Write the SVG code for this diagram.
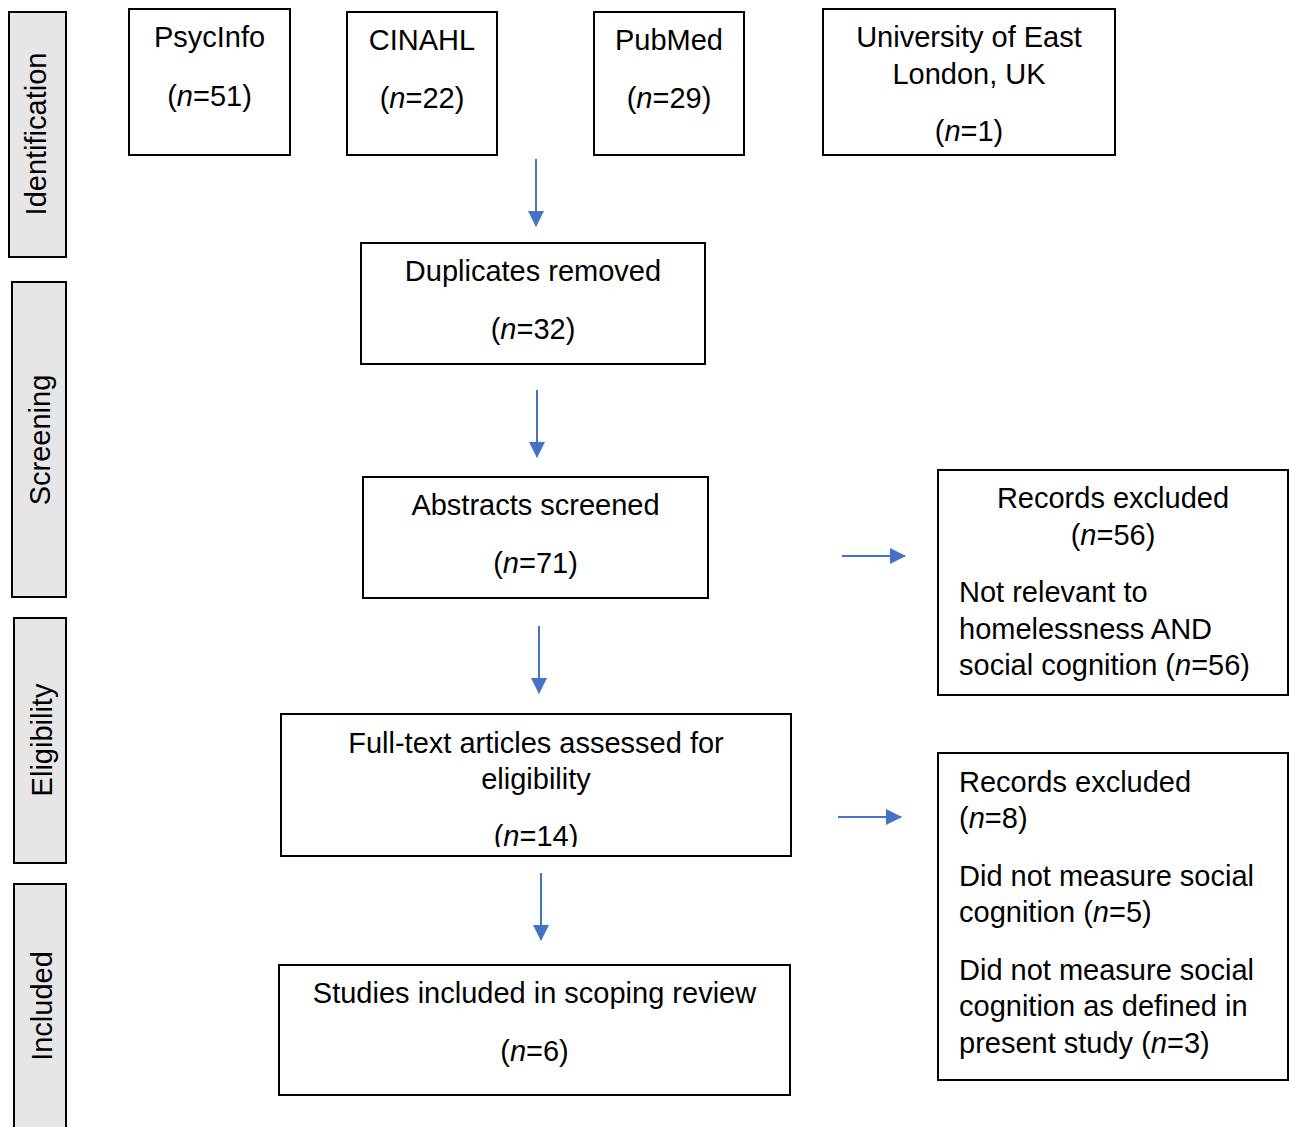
<svg xmlns="http://www.w3.org/2000/svg" width="1289" height="1127" viewBox="0 0 1289 1127">
<style>
.box{fill:#fff;stroke:#000;stroke-width:2}
.bar{fill:#e7e6e6;stroke:#000;stroke-width:2}
text{font-family:"Liberation Sans",Arial,sans-serif;font-size:29px;fill:#000}
.c{text-anchor:middle}
.con{stroke:#4472c4;stroke-width:2;fill:none;marker-end:url(#ah)}
</style>
<defs>
<marker id="ah" markerWidth="16" markerHeight="16" refX="15" refY="8" markerUnits="userSpaceOnUse" orient="auto">
<path d="M0,0 L16,8 L0,16 Z" fill="#4472c4"/>
</marker>
<clipPath id="clipFT"><rect x="281" y="714" width="510" height="133"/></clipPath>
</defs>
<rect width="1289" height="1127" fill="#fff"/>
<g id="bar-identification"><rect class="bar" x="9" y="12" width="57" height="245"/><text class="c" transform="translate(46,134) rotate(-90)">Identification</text></g>
<g id="bar-screening"><rect class="bar" x="12" y="282" width="54" height="315"/><text class="c" transform="translate(50,440) rotate(-90)">Screening</text></g>
<g id="bar-eligibility"><rect class="bar" x="14" y="618" width="52" height="245"/><text class="c" transform="translate(52,740) rotate(-90)">Eligibility</text></g>
<g id="bar-included"><rect class="bar" x="14" y="884" width="52" height="250"/><text class="c" transform="translate(52,1006) rotate(-90)">Included</text></g>

<g id="psycinfo"><rect class="box" x="129" y="9" width="161" height="146"/><text class="c" x="209.5" y="47">PsycInfo</text><text class="c" x="209.5" y="106">(<tspan font-style="italic">n</tspan>=51)</text></g>
<g id="cinahl"><rect class="box" x="347" y="12" width="150" height="143"/><text class="c" x="422" y="50">CINAHL</text><text class="c" x="422" y="108">(<tspan font-style="italic">n</tspan>=22)</text></g>
<g id="pubmed"><rect class="box" x="594" y="12" width="150" height="143"/><text class="c" x="669" y="50">PubMed</text><text class="c" x="669" y="108">(<tspan font-style="italic">n</tspan>=29)</text></g>
<g id="uel"><rect class="box" x="823" y="9" width="292" height="146"/><text class="c" x="969" y="47">University of East</text><text class="c" x="969" y="84">London, UK</text><text class="c" x="969" y="141">(<tspan font-style="italic">n</tspan>=1)</text></g>
<g id="duplicates"><rect class="box" x="361" y="243" width="344" height="121"/><text class="c" x="533" y="281">Duplicates removed</text><text class="c" x="533" y="339">(<tspan font-style="italic">n</tspan>=32)</text></g>
<g id="abstracts"><rect class="box" x="363" y="477" width="345" height="121"/><text class="c" x="535.5" y="515">Abstracts screened</text><text class="c" x="535.5" y="573">(<tspan font-style="italic">n</tspan>=71)</text></g>
<g id="fulltext"><rect class="box" x="281" y="714" width="510" height="142"/><text class="c" x="536" y="753">Full-text articles assessed for</text><text class="c" x="536" y="789">eligibility</text><text class="c" x="536" y="846" clip-path="url(#clipFT)">(<tspan font-style="italic">n</tspan>=14)</text></g>
<g id="included"><rect class="box" x="279" y="965" width="511" height="130"/><text class="c" x="534.5" y="1003">Studies included in scoping review</text><text class="c" x="534.5" y="1061">(<tspan font-style="italic">n</tspan>=6)</text></g>
<g id="excluded1"><rect class="box" x="938" y="470" width="350" height="225"/><text class="c" x="1113" y="508">Records excluded</text><text class="c" x="1113" y="545">(<tspan font-style="italic">n</tspan>=56)</text><text x="959" y="602">Not relevant to</text><text x="959" y="639">homelessness AND</text><text x="959" y="675">social cognition (<tspan font-style="italic">n</tspan>=56)</text></g>
<g id="excluded2"><rect class="box" x="938" y="753" width="350" height="327"/><text x="959" y="792">Records excluded</text><text x="959" y="828">(<tspan font-style="italic">n</tspan>=8)</text><text x="959" y="886">Did not measure social</text><text x="959" y="922">cognition (<tspan font-style="italic">n</tspan>=5)</text><text x="959" y="980">Did not measure social</text><text x="959" y="1016">cognition as defined in</text><text x="959" y="1053">present study (<tspan font-style="italic">n</tspan>=3)</text></g>

<g id="connectors">
<line class="con" x1="536" y1="159" x2="536" y2="226"/>
<line class="con" x1="537" y1="390" x2="537" y2="457"/>
<line class="con" x1="539" y1="626" x2="539" y2="693"/>
<line class="con" x1="541" y1="873" x2="541" y2="940"/>
<line class="con" x1="842" y1="556" x2="905" y2="556"/>
<line class="con" x1="838" y1="817" x2="901" y2="817"/>
</g>
</svg>
